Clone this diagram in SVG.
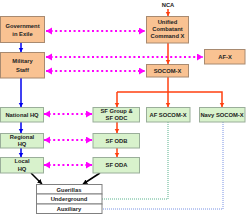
<svg xmlns="http://www.w3.org/2000/svg" width="250" height="214" viewBox="0 0 250 214">
<defs>
<style>
.o{fill:#F9C292;stroke:#A88A70;stroke-width:1}
.g{fill:#D8F2CC;stroke:#9AAE9A;stroke-width:1}
.w{fill:#FFFFFF;stroke:#808080;stroke-width:1}
text{font-family:"Liberation Sans",Arial,sans-serif;font-size:5.8px;font-weight:bold;fill:#222;text-anchor:middle}
.m{stroke:#FF00FF;stroke-width:2;stroke-dasharray:2 2.6;fill:none;marker-start:url(#mh);marker-end:url(#mh)}
.b{stroke:#0000EE;stroke-width:1.5;fill:none;marker-end:url(#bh)}
.r{stroke:#FF4010;stroke-width:1.5;fill:none}
.ra{marker-end:url(#rh)}
.k{stroke:#000;stroke-width:1.5;fill:none;marker-end:url(#kh)}
</style>
<marker id="mh" markerUnits="userSpaceOnUse" markerWidth="8" markerHeight="8" refX="6" refY="3.5" orient="auto-start-reverse"><path d="M0,0 L6,3.5 L0,7 Z" fill="#FF00FF"/></marker>
<marker id="bh" markerUnits="userSpaceOnUse" markerWidth="6" markerHeight="6" refX="4.5" refY="2.5" orient="auto"><path d="M0,0 L4.5,2.5 L0,5 Z" fill="#0000EE"/></marker>
<marker id="rh" markerUnits="userSpaceOnUse" markerWidth="6" markerHeight="6" refX="4.5" refY="2.5" orient="auto"><path d="M0,0 L4.5,2.5 L0,5 Z" fill="#FF4010"/></marker>
<marker id="kh" markerUnits="userSpaceOnUse" markerWidth="6" markerHeight="6" refX="4.5" refY="2.5" orient="auto"><path d="M0,0 L4.5,2.5 L0,5 Z" fill="#000"/></marker>
</defs>
<g id="connectors">
<path class="m" d="M46,31 H145"/>
<path class="m" d="M46,57 H203"/>
<path class="m" d="M46,71 H145"/>
<path class="m" d="M44,114 H92"/>
<path class="m" d="M44,140 H92"/>
<path class="m" d="M44,165 H92"/>
<path class="b" d="M21,43 V52"/>
<path class="b" d="M21,78 V107"/>
<path class="b" d="M21,122 V133"/>
<path class="b" d="M21,148 V157"/>
<path class="r ra" d="M168,9 V16"/>
<path class="r ra" d="M168,43 V64"/>
<path class="r" d="M168,77 V92"/>
<path class="r ra" d="M117,92 H222 V107"/>
<path class="r ra" d="M117,92 V107"/>
<path class="r ra" d="M168,92 V107"/>
<path class="r ra" d="M117,122 V133"/>
<path class="r ra" d="M117,148 V157"/>
<path class="k" d="M31,173 L42,184"/>
<path class="k" d="M100,173 L83,184"/>
<path d="M168,122 V199 H102" fill="none" stroke="#2E9E6E" stroke-width="0.8" stroke-dasharray="1 1"/>
<path d="M223,122 V209 H102" fill="none" stroke="#5577DD" stroke-width="0.8" stroke-dasharray="1 1"/>
</g>
<g id="nca"><text x="168" y="7">NCA</text></g>
<g id="gov"><rect class="o" x="0.5" y="16.5" width="44" height="26"/><text x="22.5" y="27.5">Government</text><text x="22.5" y="36">in Exile</text></g>
<g id="military"><rect class="o" x="0.5" y="52.5" width="44" height="25.5"/><text x="22.5" y="63">Military</text><text x="22.5" y="71.5">Staff</text></g>
<g id="unified"><rect class="o" x="146.5" y="16.5" width="42" height="26.5"/><text x="167.5" y="24">Unified</text><text x="167.5" y="31">Combatant</text><text x="167.5" y="38">Command X</text></g>
<g id="afx"><rect class="o" x="204.5" y="49.5" width="40.5" height="14.5"/><text x="225" y="59">AF-X</text></g>
<g id="socom"><rect class="o" x="146.5" y="64.5" width="42" height="12.5"/><text x="167.5" y="73">SOCOM-X</text></g>
<g id="national"><rect class="g" x="0.5" y="107.5" width="43" height="14.5"/><text x="22" y="116.5">National HQ</text></g>
<g id="regional"><rect class="g" x="0.5" y="133.5" width="43" height="14.5"/><text x="22" y="139">Regional</text><text x="22" y="146">HQ</text></g>
<g id="local"><rect class="g" x="0.5" y="157.5" width="43" height="15.5"/><text x="22" y="163">Local</text><text x="22" y="170.5">HQ</text></g>
<g id="sfgroup"><rect class="g" x="93" y="107.5" width="46.5" height="14.5"/><text x="116.5" y="112.5">SF Group &amp;</text><text x="116.5" y="120">SF ODC</text></g>
<g id="sfodb"><rect class="g" x="93" y="133.5" width="46.5" height="14.5"/><text x="116.5" y="142.5">SF  ODB</text></g>
<g id="sfoda"><rect class="g" x="93" y="157.5" width="46.5" height="15.5"/><text x="116.5" y="167">SF ODA</text></g>
<g id="afsocom"><rect class="g" x="146.5" y="107.5" width="43.5" height="14.5"/><text x="168" y="116.5">AF SOCOM-X</text></g>
<g id="navysocom"><rect class="g" x="199.5" y="107.5" width="45.5" height="14.5"/><text x="222" y="116.5">Navy SOCOM-X</text></g>
<g id="table">
<rect class="w" x="36.5" y="184.5" width="65.5" height="9.5"/>
<rect class="w" x="36.5" y="194" width="65.5" height="10"/>
<rect class="w" x="36.5" y="204" width="65.5" height="9.5"/>
<text x="69" y="191.5">Guerillas</text>
<text x="69" y="201">Underground</text>
<text x="69" y="211">Auxiliary</text>
</g>
</svg>
